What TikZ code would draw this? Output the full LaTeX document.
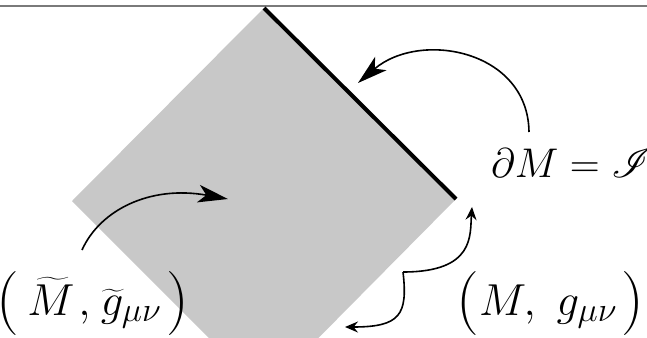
\documentclass[tikz,border=0pt]{standalone}
\usepackage{mathrsfs}
\usepackage{graphicx}
\usetikzlibrary{arrows.meta}
\newcommand\bigparL{\mathopen{\vcenter{\hbox{\scalebox{1.43}{(}}}}}
\newcommand\bigparR{\mathclose{\vcenter{\hbox{\scalebox{1.43}{)}}}}}
\newcommand\subsc[1]{\scalebox{1.1}{$\scriptstyle #1$}}
\newcommand\pairtext[1]{\scalebox{1.08}{$#1$}}
\definecolor{regiongray}{HTML}{C8C8C8}
\definecolor{rulegray}{HTML}{7A7A7A}
\tikzset{
  lbl/.style={font=\huge, inner sep=0pt},
  pairlbl/.style={font=\huge, inner sep=0pt, anchor=base west},
  conn/.style={line width=0.8pt},
  bigarrow/.style={conn, -{Stealth[length=15pt, width=8.8pt, inset=4pt]}},
  smallarrow/.style={conn, -{Stealth[length=6.5pt, width=5.5pt, inset=2.2pt]}},
}
\begin{document}
\begin{tikzpicture}[x=0.5pt, y=-0.5pt]
\useasboundingbox (0,0) rectangle (647,337);
% top rule
\draw[rulegray, line width=1pt] (0,6) -- (647,6);
% region
\coordinate (top) at (264,8);
\coordinate (right) at (456,199);
\coordinate (left) at (72,201);
\coordinate (bottom) at (264,393);
\begin{scope}
  \clip (0,0) rectangle (647,337);
  \fill[regiongray] (top) -- (right) -- (bottom) -- (left) -- cycle;
\end{scope}
\draw[line width=2pt] (top) -- (right);
% labels
\node[lbl, anchor=base] (bdry) at (572,177) {$\partial M = \mathscr{I}$};
\node[pairlbl] (phys) at (456,315) {\pairtext{\bigparL M,\mkern5.3mu g_{\subsc{\mu\nu}}\mkern1.4mu\bigparR}};
\node[pairlbl] (unphys) at (-4.3,315) {\pairtext{\bigparL\mkern3.5mu\widetilde{M\mkern1.5mu},\mkern1.2mu\widetilde{g}_{\subsc{\mu\nu}}\mkern2mu\bigparR}};
% connector ends
\coordinate (a1s) at (529,132);
\coordinate (a1e) at (358,83);
\coordinate (a2s) at (82,250);
\coordinate (a2e) at (228,199);
\coordinate (cusp) at (403,272);
\coordinate (a3e) at (345,327);
\coordinate (a4e) at (472,207);
% connectors
\draw[bigarrow] (a1s) .. controls (528,50) and (420,30) .. (a1e);
\draw[bigarrow] (a2s) .. controls (100,210) and (150,185) .. (a2e);
\draw[smallarrow] (cusp) .. controls (408,315) and (400,327) .. (a3e);
\draw[smallarrow] (cusp) .. controls (475,272) and (470,235) .. (a4e);
\end{tikzpicture}
\end{document}
